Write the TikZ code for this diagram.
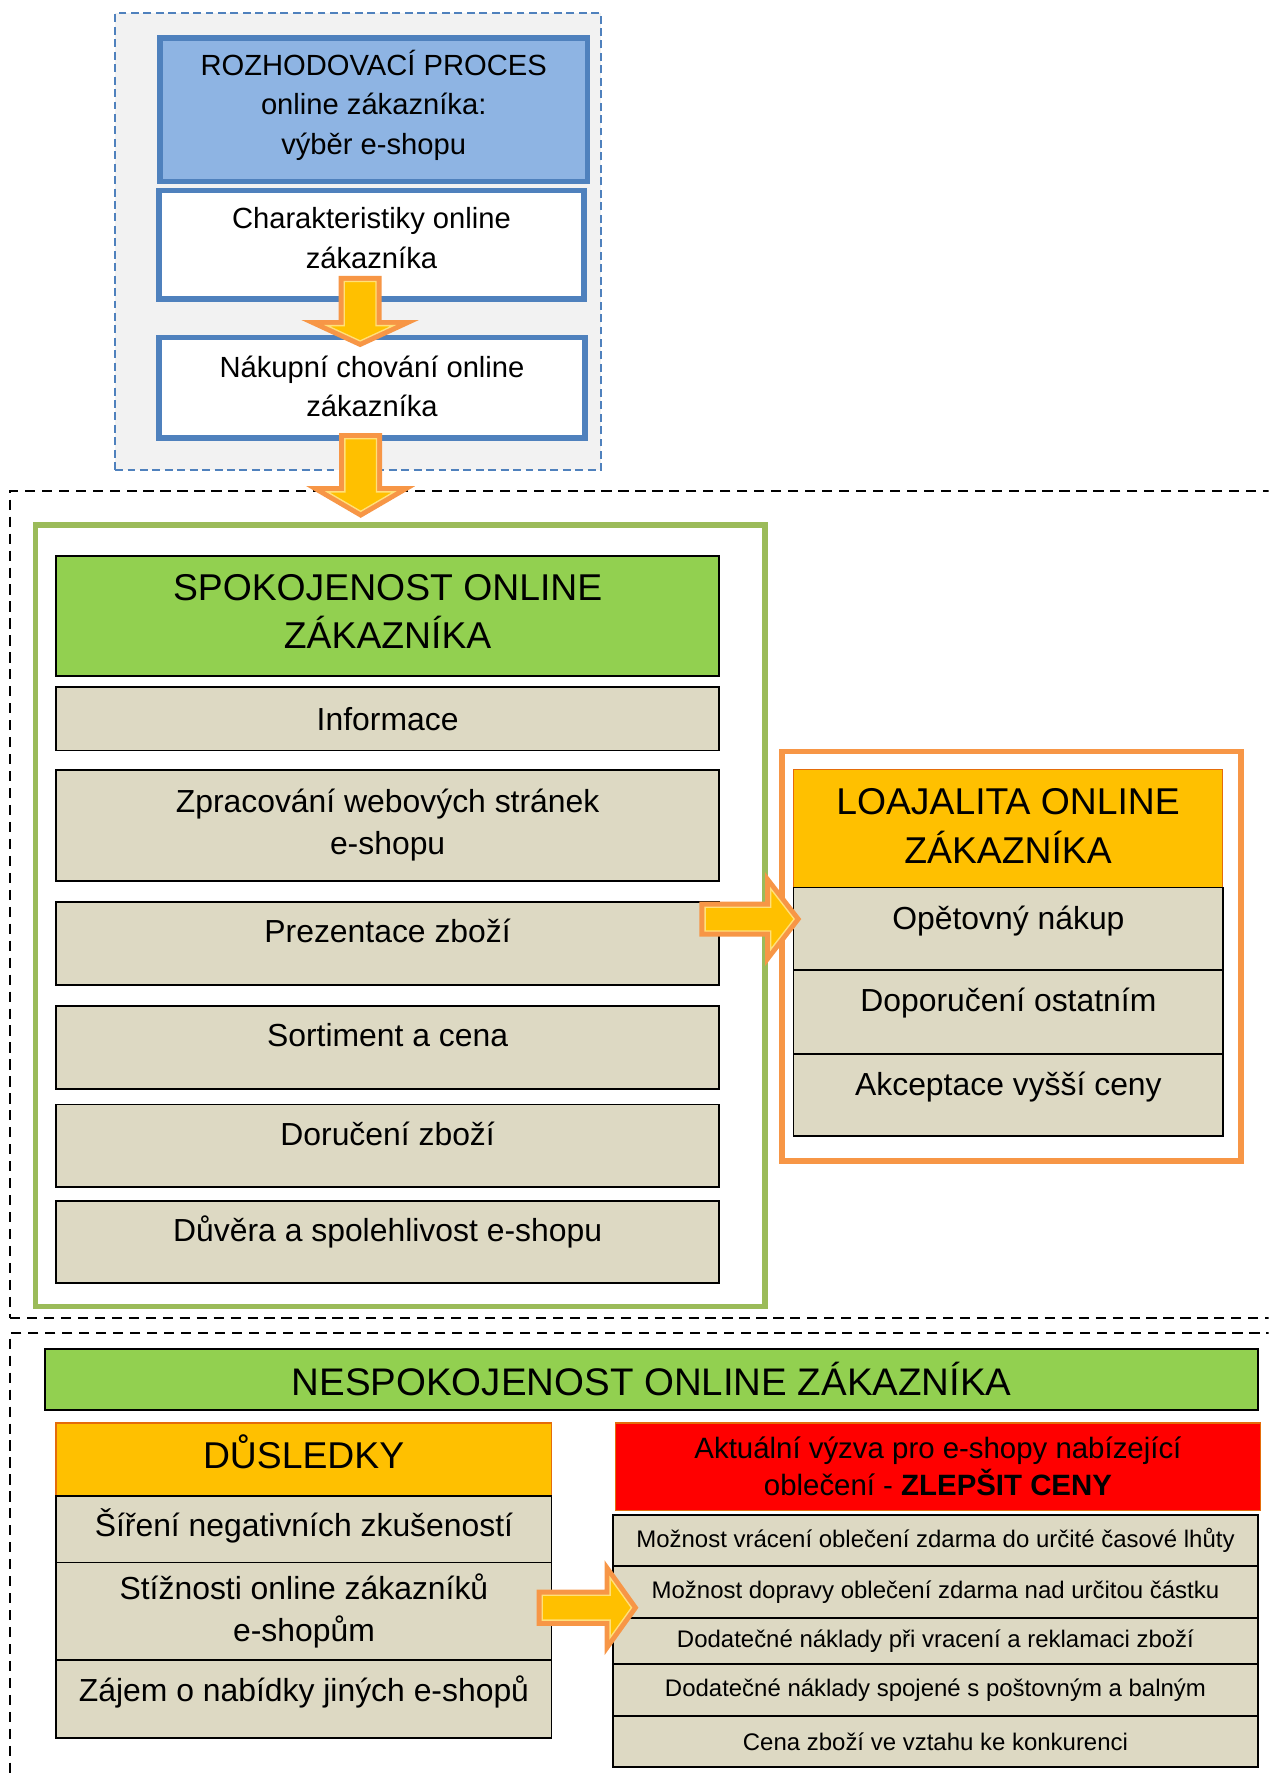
\documentclass[tikz,border=0pt]{standalone}
\usepackage{fontspec}
\setmainfont{Liberation Sans}
\usetikzlibrary{calc}

\definecolor{procblue}{HTML}{4F81BD}
\definecolor{procfill}{HTML}{8EB4E3}
\definecolor{bggray}{HTML}{F2F2F2}
\definecolor{frmgreen}{HTML}{9BBB59}
\definecolor{headgreen}{HTML}{92D050}
\definecolor{cellbeige}{HTML}{DDD9C3}
\definecolor{arrorange}{HTML}{F79646}
\definecolor{headyellow}{HTML}{FFC000}
\definecolor{lightyellow}{HTML}{FFE07A}
\definecolor{headrim}{HTML}{E46C0A}

\tikzset{
  box/.style={draw, anchor=north west, inner sep=0pt, align=center},
  procbox/.style={box, draw=procblue, line width=5pt, toptext},
  zone/.style={box, line width=1.8pt, dash pattern=on 9pt off 6pt},
  outerframe/.style={box, line width=5pt, fill=white},
  headbox/.style={box, line width=1pt, draw=headrim, fill=headyellow, headtext},
  cell/.style={box, fill=cellbeige, line width=1.6pt, celltext},
  toptext/.style={font=\fontsize{25.8}{35}\selectfont},
  headtext/.style={font=\fontsize{33}{43}\selectfont},
  celltext/.style={font=\fontsize{28.2}{37}\selectfont},
  itemtext/.style={font=\fontsize{21.2}{26}\selectfont},
  redtext/.style={font=\fontsize{26}{33}\selectfont},
  innerarrow/.style={fill=headyellow, draw=lightyellow, line width=1.2pt},
}

% invisible depth, lifts centred text
\newcommand{\lift}[1]{\rule[-#1]{0pt}{#1}}

% block arrow: start, angle, length, shaft half, head half, head length
\newcommand{\fatarrow}[6]{%
  \begin{scope}[shift={(#1)}, rotate=#2]
    \fill[arrorange] (0,-#4) -- ({#3-#6},-#4) -- ({#3-#6},-#5) -- (#3,0)
      -- ({#3-#6},#5) -- ({#3-#6},#4) -- (0,#4) -- cycle;
    \pgfmathsetmacro\ahx{#3-#6+5}
    \pgfmathsetmacro\ahw{#5-5*(#5+veclen(#6,#5))/#6}
    \pgfmathsetmacro\atip{#3-5*veclen(#6,#5)/#5}
    \filldraw[innerarrow] (5,{-(#4-5)}) -- (\ahx,{-(#4-5)}) -- (\ahx,-\ahw)
      -- (\atip,0) -- (\ahx,\ahw) -- (\ahx,{#4-5}) -- (5,{#4-5}) -- cycle;
  \end{scope}}

\begin{document}
\begin{tikzpicture}[x=1pt, y=-1pt]
\useasboundingbox (0,0) rectangle (1122,1568);
\clip (0,0) rectangle (1122,1568);

% ===== decision process =====
\node[box, draw=procblue, fill=bggray, line width=1.6pt, dash pattern=on 7pt off 4pt,
  minimum width=430pt, minimum height=404pt] (procframe) at (101,11) {};
\node[procbox, fill=procfill, minimum width=378pt, minimum height=127pt] (proc) at (139,31)
  {ROZHODOVACÍ PROCES\\online zákazníka:\\výběr e-shopu\lift{13pt}};
\node[procbox, fill=white, minimum width=376pt, minimum height=96pt] (charakt) at (138,166)
  {Charakteristiky online\\zákazníka\lift{12pt}};
\node[procbox, fill=white, minimum width=377pt, minimum height=89pt] (chovani) at (138,296)
  {Nákupní chování online\\zákazníka\lift{3pt}};

% ===== satisfaction =====
\node[zone, minimum width=1130pt, minimum height=732pt] (satzone) at (8,433) {};
\node[outerframe, draw=frmgreen, minimum width=645pt, minimum height=691pt] (satframe) at (29,462) {};
\node[box, fill=headgreen, line width=1.6pt, headtext, minimum width=586pt, minimum height=106pt]
  (sathead) at (49,491) {SPOKOJENOST ONLINE\\ZÁKAZNÍKA\lift{8pt}};
\node[cell, minimum width=586pt, minimum height=56pt] (info) at (49,607) {Informace};
\node[cell, minimum width=586pt, minimum height=98pt] (web) at (49,680)
  {Zpracování webových stránek\\e-shopu};
\node[cell, minimum width=586pt, text height=36pt, text depth=37pt] (prez) at (49,797) {Prezentace zboží};
\node[cell, minimum width=586pt, text height=36pt, text depth=37pt] (sort) at (49,889) {Sortiment a cena};
\node[cell, minimum width=586pt, text height=36pt, text depth=37pt] (doruc) at (49,976) {Doručení zboží};
\node[cell, minimum width=586pt, text height=36pt, text depth=37pt] (duvera) at (49,1061) {Důvěra a spolehlivost e-shopu};

% ===== loyalty =====
\node[outerframe, draw=arrorange, minimum width=406pt, minimum height=362pt] (loyframe) at (689,662) {};
\node[headbox, minimum width=380pt, minimum height=104pt] (loyhead) at (701,680) {LOAJALITA ONLINE\\ZÁKAZNÍKA\lift{4pt}};
\node[cell, minimum width=380pt, text height=37pt, text depth=36pt] (nakup) at (701,784) {Opětovný nákup};
\node[cell, minimum width=380pt, text height=37pt, text depth=37pt] (doporuc) at (701,857) {Doporučení ostatním};
\node[cell, minimum width=380pt, text height=37pt, text depth=36pt] (vyssi) at (701,931) {Akceptace vyšší ceny};

% ===== dissatisfaction =====
\node[zone, minimum width=1130pt, minimum height=420pt] (dissatzone) at (8,1178) {};
\node[box, fill=headgreen, line width=1.6pt, font=\fontsize{34}{43}\selectfont,
  minimum width=1073pt, minimum height=54pt] (dissathead) at (39,1192) {NESPOKOJENOST ONLINE ZÁKAZNÍKA};
\node[headbox, minimum width=438pt, text height=40pt, text depth=24pt] (dusl) at (49,1258) {DŮSLEDKY};
\node[cell, minimum width=438pt, text height=36pt, text depth=23pt] (sireni) at (49,1322) {Šíření negativních zkušeností};
\node[cell, minimum width=438pt, minimum height=86pt] (stiz) at (49,1381) {Stížnosti online zákazníků\\e-shopům};
\node[cell, minimum width=438pt, text height=37pt, text depth=32pt] (zajem) at (49,1467) {Zájem o nabídky jiných e-shopů};

\node[headbox, fill=red, redtext, minimum width=570pt, minimum height=77pt] (vyzva) at (544,1258)
  {Aktuální výzva pro e-shopy nabízející\\oblečení - \textbf{ZLEPŠIT CENY}};
\node[cell, itemtext, minimum width=571pt, minimum height=45pt] (vraceni) at (541,1339)
  {Možnost vrácení oblečení zdarma do určité časové lhůty};
\node[cell, itemtext, minimum width=571pt, minimum height=46pt] (doprava) at (541,1384)
  {Možnost dopravy oblečení zdarma nad určitou částku};
\node[cell, itemtext, minimum width=571pt, minimum height=41pt] (reklam) at (541,1430)
  {Dodatečné náklady při vracení a reklamaci zboží};
\node[cell, itemtext, minimum width=571pt, minimum height=46pt] (postov) at (541,1471)
  {Dodatečné náklady spojené s poštovným a balným};
\node[cell, itemtext, minimum width=571pt, minimum height=45pt] (konkur) at (541,1517)
  {Cena zboží ve vztahu ke konkurenci};

% ===== block arrows =====
\coordinate (a1) at ($(charakt.south)+(-10,-23)$);
\coordinate (a2) at ($(chovani.south)+(-10,-7)$);
\coordinate (a3) at ($(prez.east)+(-18,-21.5)$);
\coordinate (a4) at ($(stiz.east)+(-14,-3)$);
\fatarrow{a1}{-90}{63}{19}{52}{24}
\fatarrow{a2}{-90}{75}{19}{48}{28}
\fatarrow{a3}{0}{90}{15.5}{41.5}{32}
\fatarrow{a4}{0}{90}{16}{42}{30}

\end{tikzpicture}
\end{document}
